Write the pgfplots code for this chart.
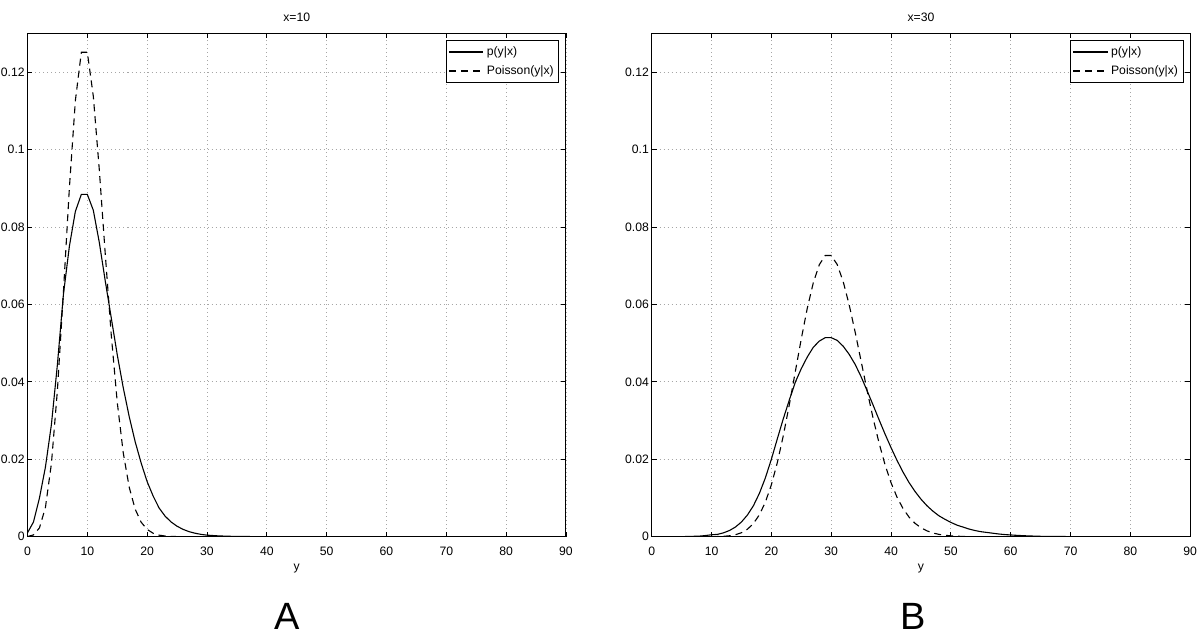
\documentclass[border=0pt]{standalone}
\usepackage{fontspec}
\setmainfont{Liberation Sans}
\usepackage{pgfplots}
\pgfplotsset{compat=1.18}
\begin{document}
\begin{tikzpicture}
\useasboundingbox (0pt,0pt) rectangle (600pt,318.5pt);
\pgfplotsset{
  mystyle/.style={
    scale only axis, width=269.25pt, height=251.7pt,
    xmin=0,xmax=90,ymin=0,ymax=0.13,
    xtick={0,10,...,90}, ytick={0,0.02,0.04,0.06,0.08,0.1,0.12},
    yticklabels={0,0.02,0.04,0.06,0.08,0.1,0.12},
    scaled y ticks=false,
    /pgf/number format/assume math mode=true,
    tick align=inside, major tick length=2.5pt,
    tick style={black, line width=0.4pt},
    axis line style={line width=0.5pt},
    grid=major,
    major grid style={gray!70, line width=0.4pt, dash pattern=on 0.5pt off 1.5pt},
    ticklabel style={font=\fontsize{6.1}{7}\selectfont},
    xticklabel style={yshift=-1.5pt},
    yticklabel style={inner sep=1.2pt},
    title style={font=\fontsize{6.1}{7}\selectfont, yshift=-3.5pt},
    xlabel style={font=\fontsize{6.1}{7}\selectfont, at={(axis description cs:0.5,0)}, anchor=north, yshift=-10pt},
    xlabel={y},
    legend style={at={(1,1)}, anchor=north east, xshift=-3.35pt, yshift=-3.35pt, font=\fontsize{6.1}{7}\selectfont, draw=black, line width=0.5pt, inner sep=1pt, row sep=0pt, nodes={inner sep=1.5pt, text height=5pt, text depth=1.5pt}},
    legend cell align=left,
  }
}
\begin{axis}[mystyle, at={(13.75pt,50.15pt)}, anchor=south west, title={x=10}]
\addplot[black, line width=0.55pt] coordinates {
(0,0.0010)(1,0.0038)(2,0.0100)(3,0.0180)(4,0.0290)(5,0.0445)(6,0.0625)(7,0.0750)
(8,0.0840)(9,0.0884)(10,0.0884)(11,0.0843)(12,0.0760)(13,0.0660)(14,0.0565)
(15,0.0470)(16,0.0385)(17,0.0310)(18,0.0245)(19,0.0190)(20,0.0142)(21,0.0105)
(22,0.0074)(23,0.0053)(24,0.0038)(25,0.0027)(26,0.0019)(27,0.0013)(28,0.0009)
(29,0.0006)(30,0.0004)(31,0.0003)(32,0.0002)(34,0.0001)(36,0.00005)(40,0.00001)
(45,0)(90,0)};
\addplot[black, line width=0.55pt, dash pattern=on 3.5pt off 2.5pt] coordinates {
(0,0.0000454)(1,0.000454)(2,0.00227)(3,0.00757)(4,0.01892)(5,0.03783)(6,0.06306)
(7,0.09008)(8,0.11260)(9,0.12511)(10,0.12511)(11,0.11374)(12,0.09478)(13,0.07291)
(14,0.05208)(15,0.03472)(16,0.02170)(17,0.01276)(18,0.00709)(19,0.00373)
(20,0.00187)(21,0.00089)(22,0.00040)(23,0.00018)(24,0.00007)(25,0.00003)
(26,0.00001)(27,0)(90,0)};
\legend{p(y|x), Poisson(y|x)}
\end{axis}
\begin{axis}[mystyle, at={(325.85pt,50.15pt)}, anchor=south west, title={x=30}]
\addplot[black, line width=0.55pt] coordinates {
(0,0)(4,0)(5,0.00002)(6,0.00005)(7,0.0001)(8,0.00015)(9,0.0003)(10,0.0005)
(11,0.0006)(12,0.0010)(13,0.0016)(14,0.0025)(15,0.0038)(16,0.0056)(17,0.0080)
(18,0.0112)(19,0.0152)(20,0.0200)(21,0.0253)(22,0.0305)(23,0.0353)(24,0.0399)
(25,0.0434)(26,0.0464)(27,0.0489)(28,0.0505)(29,0.0514)(30,0.0514)(31,0.0507)
(32,0.0492)(33,0.0471)(34,0.0445)(35,0.0413)(36,0.0377)(37,0.0340)(38,0.0302)
(39,0.0265)(40,0.0230)(41,0.0197)(42,0.0167)(43,0.0140)(44,0.0117)(45,0.0097)
(46,0.0080)(47,0.0066)(48,0.0054)(49,0.0045)(50,0.0037)(51,0.0030)(52,0.0025)
(53,0.0020)(54,0.0016)(55,0.0013)(56,0.0011)(57,0.0009)(58,0.0007)(59,0.00055)
(60,0.00045)(61,0.00035)(62,0.00027)(63,0.0002)(64,0.00015)(65,0.0001)
(67,0.00006)(70,0.00003)(75,0.00001)(80,0)(90,0)};
\addplot[black, line width=0.55pt, dash pattern=on 3.5pt off 2.5pt] coordinates {
(0,0)(8,0)(9,0.00001)(10,0.00002)(11,0.00004)(12,0.00010)(13,0.00024)(14,0.00051)
(15,0.00103)(16,0.00193)(17,0.00340)(18,0.00566)(19,0.00894)(20,0.01341)
(21,0.01916)(22,0.02613)(23,0.03408)(24,0.04260)(25,0.05111)(26,0.05898)
(27,0.06553)(28,0.07021)(29,0.07263)(30,0.07263)(31,0.07029)(32,0.06590)
(33,0.05991)(34,0.05286)(35,0.04531)(36,0.03776)(37,0.03061)(38,0.02417)
(39,0.01859)(40,0.01394)(41,0.01020)(42,0.00729)(43,0.00508)(44,0.00347)
(45,0.00231)(46,0.00151)(47,0.00096)(48,0.00060)(49,0.00037)(50,0.00022)
(51,0.00013)(52,0.00007)(53,0.00004)(54,0.00002)(55,0.00001)(56,0)(90,0)};
\legend{p(y|x), Poisson(y|x)}
\end{axis}
\node[anchor=base, font=\fontsize{19}{22}\selectfont, inner sep=0pt] at (143.5pt,3.5pt) {A};
\node[anchor=base, font=\fontsize{19}{22}\selectfont, inner sep=0pt] at (456.5pt,3.5pt) {B};
\end{tikzpicture}
\end{document}
